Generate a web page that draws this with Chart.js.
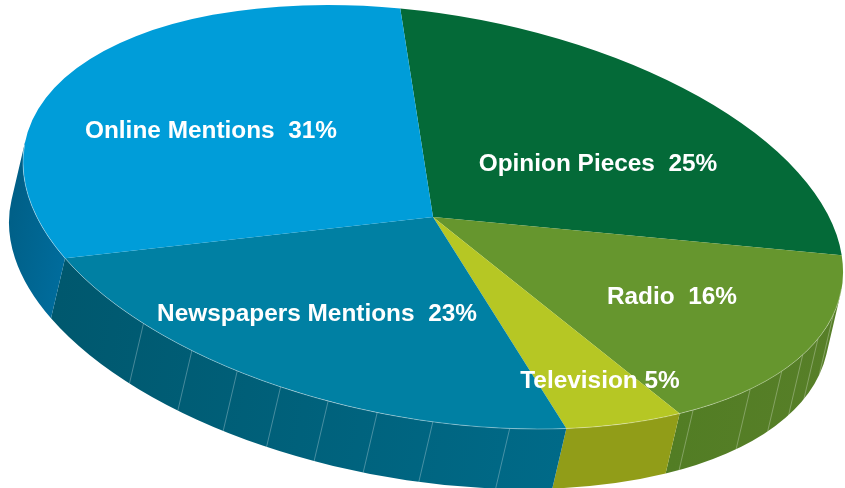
<!DOCTYPE html>
<html>
<head>
<meta charset="utf-8">
<title>Media mentions</title>
<style>
  html, body { margin: 0; padding: 0; background: #fff; }
  canvas { display: block; }
</style>
<script src="https://cdn.jsdelivr.net/npm/chart.js@4"></script>
</head>
<body>
<canvas id="pie" width="845" height="488"></canvas>
<script>
const categories = ['Opinion Pieces', 'Radio', 'Television', 'Newspapers Mentions', 'Online Mentions'];
const shares     = [25, 16, 5, 23, 31];
const separators = ['  ', '  ', ' ', '  ', '  '];
const topColors  = ['#046a38', '#66962e', '#b6c724', '#0080a3', '#009dd9'];
// side wall colour at the start and the end of each slice's rim
const sideStart  = ['#034f2a', '#577f28', '#919d18', '#006a88', '#006c9c'];
const sideEnd    = ['#034f2a', '#527d24', '#919d18', '#00586e', '#006088'];

// where the light seams sit on the rim, degrees clockwise from 3 o'clock
const seamAngles = [7.6, 15.2, 20.7, 26.8, 34.4, 45.7, 74.3, 85.1, 92.9, 99.9, 106.9, 113.6, 121.1, 130];

// label centres on the page
const labelX = [598, 672, 600, 317, 211];
const labelY = [164, 297, 381, 314, 131];

// tilted ellipse for the top face
const TILT = 10 * Math.PI / 180;
const CX = 433, CY = 217, RX = 414.8, RY = 202.5;
// wall offset as a share of the radius, before the tilt
const DEPTH_X = -0.0082, DEPTH_Y = 0.304;

function applyTilt(ctx, arc) {
  ctx.translate(CX, CY);
  ctx.rotate(TILT);
  ctx.scale(RX / arc.outerRadius, RY / arc.outerRadius);
  ctx.translate(-arc.x, -arc.y);
}

const tiltPlugin = {
  id: 'tilt',
  beforeDatasetsDraw(chart) {
    const ctx = chart.ctx;
    const arcs = chart.getDatasetMeta(0).data;
    const base = ctx.getTransform();
    const { x, y, outerRadius: r } = arcs[0];
    const dx = r * DEPTH_X, dy = r * DEPTH_Y;
    // the wall faces us between these two rim angles
    const front0 = Math.atan2(-DEPTH_X, DEPTH_Y), front1 = front0 + Math.PI;

    ctx.save();
    applyTilt(ctx, arcs[0]);
    const tilted = ctx.getTransform();

    arcs.forEach((arc, i) => {
      const turns = [-2 * Math.PI, 0, 2 * Math.PI];
      turns.forEach(t => {
        const a0 = Math.max(arc.startAngle + t, front0);
        const a1 = Math.min(arc.endAngle + t, front1);
        if (a1 <= a0) return;
        const grad = ctx.createLinearGradient(x + r * Math.cos(a0), 0, x + r * Math.cos(a1), 0);
        grad.addColorStop(0, sideStart[i]);
        grad.addColorStop(1, sideEnd[i]);
        ctx.beginPath();
        ctx.arc(x, y, r, a0, a1);
        ctx.arc(x + dx, y + dy, r, a1, a0, true);
        ctx.closePath();
        ctx.fillStyle = grad;
        ctx.fill();
      });
    });

    // seams, stroked without the squash
    ctx.lineWidth = 1;
    ctx.strokeStyle = 'rgba(255,255,255,0.28)';
    seamAngles.forEach(deg => {
      const a = deg * Math.PI / 180;
      const px = x + r * Math.cos(a), py = y + r * Math.sin(a);
      ctx.beginPath();
      ctx.moveTo(px, py);
      ctx.lineTo(px + dx, py + dy);
      ctx.setTransform(base);
      ctx.stroke();
      ctx.setTransform(tilted);
    });
  },
  afterDatasetsDraw(chart) {
    const ctx = chart.ctx;
    const arcs = chart.getDatasetMeta(0).data;

    // rim highlight between top and side
    const { x, y, outerRadius: r } = arcs[0];
    ctx.beginPath();
    ctx.arc(x, y, r, 0, Math.PI);
    ctx.restore();
    ctx.lineWidth = 1;
    ctx.strokeStyle = 'rgba(255,255,255,0.35)';
    ctx.stroke();

    ctx.font = 'bold 24.4px "Liberation Sans", Arial, sans-serif';
    ctx.fillStyle = '#fff';
    ctx.textAlign = 'center';
    ctx.textBaseline = 'middle';
    categories.forEach((name, i) => {
      ctx.fillText(name + separators[i] + shares[i] + '%', labelX[i], labelY[i]);
    });
  }
};

new Chart(document.getElementById('pie').getContext('2d'), {
  type: 'pie',
  data: {
    labels: categories,
    datasets: [{
      data: shares,
      backgroundColor: topColors,
      borderWidth: 0,
      clip: false
    }]
  },
  options: {
    responsive: false,
    animation: false,
    rotation: -9.5,
    layout: { padding: 0 },
    plugins: { legend: { display: false }, tooltip: { enabled: false } }
  },
  plugins: [tiltPlugin]
});
</script>
</body>
</html>
